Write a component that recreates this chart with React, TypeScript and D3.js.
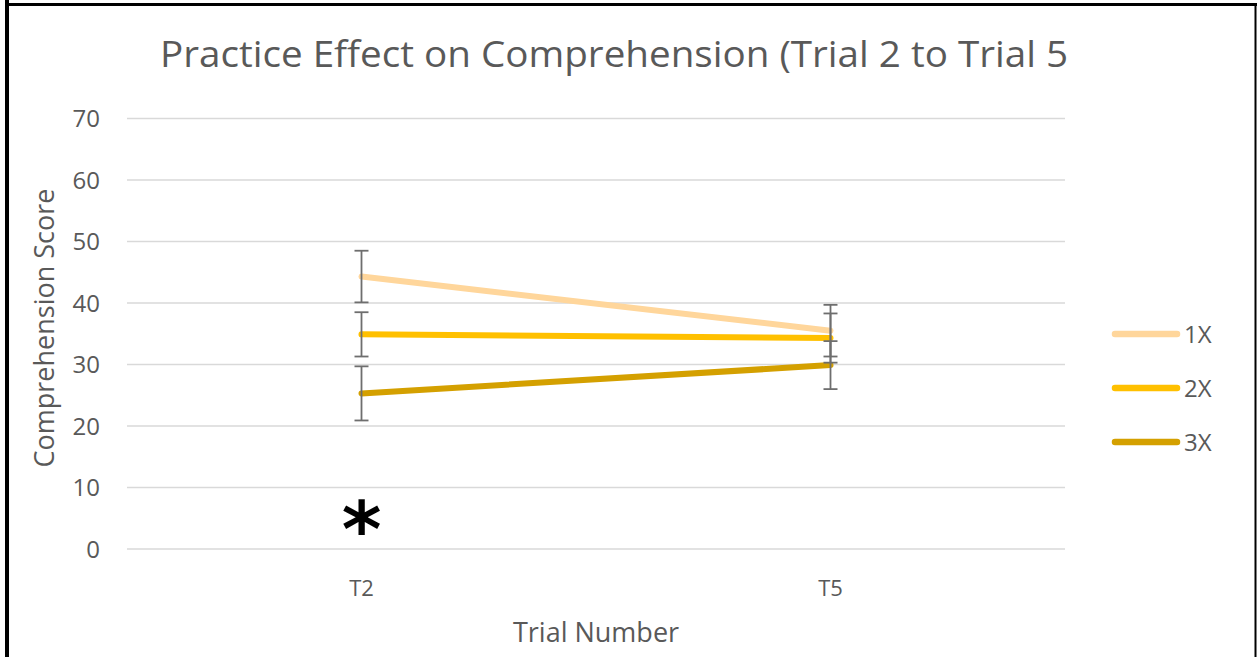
import React from "react";
import * as d3 from "d3";

const categories = ["T2", "T5"];
const seriesNames = ["1X", "2X", "3X"];
const values1X = [44.3, 35.5];
const values2X = [34.9, 34.3];
const values3X = [25.3, 29.9];
const errors1X = [4.2, 4.2];
const errors2X = [3.6, 4.0];
const errors3X = [4.4, 3.9];
const yTicks = [0, 10, 20, 30, 40, 50, 60, 70];
const colors = ["#FFD69B", "#FFC000", "#D4A000"];

const W = 1257;
const H = 657;

export default function App() {
  const x = d3.scaleBand().domain(categories).range([127, 1065]);
  const y = d3.scaleLinear().domain([0, 70]).range([549, 118.5]);
  const series = [
    { name: seriesNames[0], values: values1X, errors: errors1X, color: colors[0] },
    { name: seriesNames[1], values: values2X, errors: errors2X, color: colors[1] },
    { name: seriesNames[2], values: values3X, errors: errors3X, color: colors[2] },
  ];
  const cx = (c: string) => (x(c) as number) + x.bandwidth() / 2;
  const line = d3
    .line<number>()
    .x((_, i) => cx(categories[i]))
    .y((v) => y(v));
  const font = "Open Sans, sans-serif";
  const grey = "#595959";
  const legendY = [334, 388, 442];

  return (
    <svg
      width={W}
      height={H}
      style={{ position: "absolute", left: 0, top: 0, background: "#fff" }}
    >
      <rect x={0} y={0} width={W} height={H} fill="#fff" />
      {/* border */}
      <line x1={7} y1={0} x2={7} y2={H} stroke="#000" strokeWidth={4} />
      <line x1={5} y1={4.5} x2={W} y2={4.5} stroke="#000" strokeWidth={3} />
      <line x1={1255.5} y1={3} x2={1255.5} y2={H} stroke="#000" strokeWidth={2} />

      <text
        x={160}
        y={67}
        textLength={908}
        lengthAdjust="spacingAndGlyphs"
        fontFamily={font}
        fontSize={36}
        fill={grey}
      >
        Practice Effect on Comprehension (Trial 2 to Trial 5
      </text>

      {yTicks.map((t) => (
        <g key={t}>
          <line
            x1={127}
            x2={1065}
            y1={y(t)}
            y2={y(t)}
            stroke="#D9D9D9"
            strokeWidth={1.5}
          />
          <text
            x={100}
            y={y(t)}
            dy="0.36em"
            textAnchor="end"
            fontFamily={font}
            fontSize={24}
            fill={grey}
          >
            {t}
          </text>
        </g>
      ))}

      {categories.map((c) => (
        <text
          key={c}
          x={cx(c)}
          y={596}
          textAnchor="middle"
          fontFamily={font}
          fontSize={22}
          fill={grey}
        >
          {c}
        </text>
      ))}

      <text
        x={596}
        y={642}
        textAnchor="middle"
        fontFamily={font}
        fontSize={27}
        fill={grey}
      >
        Trial Number
      </text>
      <text
        transform={`translate(54,328) rotate(-90)`}
        textAnchor="middle"
        fontFamily={font}
        fontSize={27}
        fill={grey}
      >
        Comprehension Score
      </text>

      {series.map((s) => (
        <path
          key={s.name}
          d={line(s.values) || ""}
          fill="none"
          stroke={s.color}
          strokeWidth={6}
          strokeLinecap="round"
        />
      ))}

      {series.map((s) =>
        s.values.map((v, i) => {
          const px = cx(categories[i]);
          const top = y(v + s.errors[i]);
          const bot = y(v - s.errors[i]);
          return (
            <g key={s.name + i} stroke="#6E6E6E" strokeWidth={1.8}>
              <line x1={px} x2={px} y1={top} y2={bot} />
              <line x1={px - 7} x2={px + 7} y1={top} y2={top} />
              <line x1={px - 7} x2={px + 7} y1={bot} y2={bot} />
            </g>
          );
        })
      )}

      <text
        x={cx(categories[0])}
        y={556}
        textAnchor="middle"
        fontFamily="DejaVu Sans, sans-serif"
        fontWeight="bold"
        fontSize={76}
        fill="#000"
      >
        *
      </text>

      {series.map((s, i) => (
        <g key={"lg" + s.name}>
          <line
            x1={1115}
            x2={1177}
            y1={legendY[i]}
            y2={legendY[i]}
            stroke={s.color}
            strokeWidth={6.5}
            strokeLinecap="round"
          />
          <text
            x={1184}
            y={legendY[i] + 9}
            fontFamily={font}
            fontSize={24}
            fill={grey}
          >
            {s.name}
          </text>
        </g>
      ))}
    </svg>
  );
}
